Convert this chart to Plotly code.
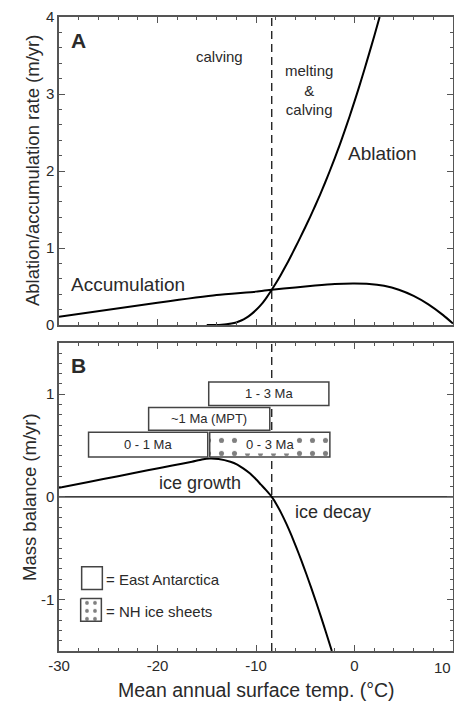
import plotly.graph_objects as go

# ---- data ----
acc_x = [-30, -20, -14, -10, -8.4, -6, -4, -2, 0, 1.5, 3, 4.5, 6, 7.5, 9, 10]
acc_y = [0.11, 0.29, 0.39, 0.435, 0.46, 0.49, 0.515, 0.535, 0.54, 0.535, 0.51, 0.46, 0.38, 0.27, 0.13, 0.02]

abl_x = [-15, -14, -13.5, -13, -12.5, -12, -11.5, -11, -10.5, -10, -9.5, -9, -8.4, -8, -7.5, -7, -6.5, -6,
         -5.5, -5, -4.5, -4, -3.5, -3, -2.5, -2, -1.5, -1, -0.5, 0, 0.5, 1, 1.5, 2, 2.55]
abl_y = [0.0, 0.002, 0.006, 0.012, 0.02, 0.035, 0.06, 0.095, 0.14, 0.195, 0.262, 0.345, 0.46, 0.54, 0.648, 0.763,
         0.884, 1.01, 1.139, 1.271, 1.406, 1.546, 1.692, 1.845, 2.004, 2.169, 2.341, 2.521, 2.709, 2.904, 3.106,
         3.316, 3.531, 3.751, 4.0]

mb_x = [-30, -27, -24, -21, -18.5, -16.5, -15.5, -14.7, -13.8, -12.6, -11.9, -11.3, -10.6, -10, -9.5, -9, -8.4,
        -7.9, -7.4, -6.9, -6.4, -5.9, -5.4, -4.9, -4.4, -3.9, -3.4, -2.9, -2.3]
mb_y = [0.09, 0.146, 0.202, 0.259, 0.306, 0.343, 0.365, 0.375, 0.37, 0.343, 0.315, 0.278, 0.228, 0.172, 0.12,
        0.068, 0.0, -0.075, -0.165, -0.265, -0.375, -0.493, -0.618, -0.748, -0.883, -1.023, -1.168, -1.318, -1.5]

threshold_temp = -8.4

# East Antarctica boxes: label, x0, x1, y0, y1
ea_labels = ["1 - 3 Ma", "~1 Ma (MPT)", "0 - 1 Ma"]
ea_x0 = [-14.8, -20.9, -27.0]
ea_x1 = [-2.6, -8.6, -14.9]
ea_y0 = [0.89, 0.65, 0.39]
ea_y1 = [1.12, 0.87, 0.63]

# NH ice sheet box
nh_label = "0 - 3 Ma"
nh_x0, nh_x1, nh_y0, nh_y1 = -14.7, -2.5, 0.39, 0.63

x_ticks = [-30, -20, -10, 0, 10]
x_ticklabels = ["-30", "-20", "-10", "0", "10"]
ya_ticks = [0, 1, 2, 3, 4]
yb_ticks = [-1, 0, 1]
yb_ticklabels = ["-1", "0", "1"]

FONT = "Liberation Sans, Arial, Helvetica, sans-serif"
TXT = "#2a2a2a"
AX = "#555555"

fig = go.Figure()

line_style = dict(color="black", width=2, shape="spline", smoothing=0.6)
fig.add_trace(go.Scatter(x=acc_x, y=acc_y, mode="lines", line=line_style,
                         xaxis="x", yaxis="y", showlegend=False))
fig.add_trace(go.Scatter(x=abl_x, y=abl_y, mode="lines", line=line_style,
                         xaxis="x", yaxis="y", showlegend=False))
fig.add_trace(go.Scatter(x=mb_x, y=mb_y, mode="lines", line=line_style,
                         xaxis="x2", yaxis="y2", showlegend=False))

# hatched NH box
fig.add_trace(go.Scatter(x=[nh_x0, nh_x1, nh_x1, nh_x0, nh_x0], y=[nh_y0, nh_y0, nh_y1, nh_y1, nh_y0],
                         mode="lines", fill="toself", fillcolor="white",
                         fillpattern=dict(shape=".", size=13, solidity=0.12, fgcolor="#000", bgcolor="white"),
                         line=dict(color="#444", width=1.5), xaxis="x2", yaxis="y2", showlegend=False,
                         hoverinfo="skip"))

# NH legend box (hatched)
fig.add_trace(go.Scatter(x=[-27.8, -25.7, -25.7, -27.8, -27.8], y=[-0.99, -0.99, -1.21, -1.21, -0.99],
                         mode="lines", fill="toself", fillcolor="white",
                         fillpattern=dict(shape=".", size=8, solidity=0.18, fgcolor="#000", bgcolor="white"),
                         line=dict(color="#444", width=1.5), xaxis="x2", yaxis="y2", showlegend=False,
                         hoverinfo="skip"))

shapes = []
for x0, x1, y0, y1 in zip(ea_x0, ea_x1, ea_y0, ea_y1):
    shapes.append(dict(type="rect", xref="x2", yref="y2", x0=x0, x1=x1, y0=y0, y1=y1,
                       line=dict(color="#444", width=1.5), fillcolor="white", layer="above"))
shapes.append(dict(type="rect", xref="x2", yref="y2", x0=-27.7, x1=-25.6, y0=-0.68, y1=-0.9,
                   line=dict(color="#444", width=1.5), fillcolor="white"))
for xr, yr, yl in (("x", "y", (0, 4)), ("x2", "y2", (-1.5, 1.5))):
    shapes.append(dict(type="line", xref=xr, yref=yr, x0=threshold_temp, x1=threshold_temp, y0=yl[0], y1=yl[1],
                       line=dict(color="black", width=1.2, dash="8px,5px"), layer="below"))
shapes.append(dict(type="line", xref="x2", yref="y2", x0=-30, x1=10, y0=0, y1=0,
                   line=dict(color="black", width=1.2), layer="below"))

ann = []
def A(x, y, t, size, xr="x", yr="y", bold=False, **kw):
    d = dict(x=x, y=y, xref=xr, yref=yr, text=("<b>%s</b>" % t) if bold else t, showarrow=False,
             xanchor="center", yanchor="middle",
             font=dict(family=FONT, size=size, color=TXT))
    d.update(kw)
    ann.append(d)

A(-28, 3.7, "A", 21, bold=True)
A(-13.7, 3.49, "calving", 15)
A(-4.6, 3.05, "melting<br>&<br>calving", 15)
A(2.8, 2.23, "Ablation", 19)
A(-23, 0.53, "Accumulation", 19)

A(-28, 1.28, "B", 21, "x2", "y2", bold=True)
for lab, x0, x1, y0, y1 in zip(ea_labels, ea_x0, ea_x1, ea_y0, ea_y1):
    A((x0 + x1) / 2, (y0 + y1) / 2, lab, 13, "x2", "y2")
A((nh_x0 + nh_x1) / 2, (nh_y0 + nh_y1) / 2, nh_label, 13, "x2", "y2", bgcolor="white")
A(-15.7, 0.135, "ice growth", 18, "x2", "y2")
A(-2.2, -0.15, "ice decay", 18, "x2", "y2")
A(-25.4, -0.8, "= East Antarctica", 15, "x2", "y2", xanchor="left")
A(-25.4, -1.12, "= NH ice sheets", 15, "x2", "y2", xanchor="left")

# last x tick label kept inside the page (it sits at the right edge)
A(x_ticks[-1], -0.0255, x_ticklabels[-1], 15, "x2", "paper", xanchor="right")

A(-0.0685, 0.757, "Ablation/accumulation rate (m/yr)", 18.5, "paper", "paper", textangle=-90)
A(-0.0735, 0.243, "Mass balance (m/yr)", 18.5, "paper", "paper", textangle=-90)
A(0.5, -0.0615, "Mean annual surface temp. (°C)", 19.5, "paper", "paper")

common = dict(showline=True, linecolor=AX, linewidth=1.5, mirror="allticks", ticks="inside",
              tickcolor=AX, tickwidth=1, showgrid=False, zeroline=False, ticklen=6,
              automargin=False,
              tickfont=dict(family=FONT, size=15, color=TXT))

def minor(d):
    return dict(dtick=d, ticklen=3.5, ticks="inside", tickcolor=AX, tickwidth=1, showgrid=False)

fig.update_layout(
    width=454, height=702,
    margin=dict(l=59, r=1, t=17, b=51),
    paper_bgcolor="white", plot_bgcolor="white",
    shapes=shapes, annotations=ann,
    xaxis=dict(domain=[0, 1], anchor="y", range=[-30, 10], tickvals=x_ticks, ticktext=x_ticklabels,
               showticklabels=False, minor=minor(2), **common),
    yaxis=dict(domain=[0.514, 1], anchor="x", range=[0, 4], tickvals=ya_ticks, minor=minor(0.2), **common),
    xaxis2=dict(domain=[0, 1], anchor="y2", range=[-30, 10], tickvals=x_ticks,
                ticktext=x_ticklabels[:-1] + [""], minor=minor(2), **common),
    yaxis2=dict(domain=[0, 0.486], anchor="x2", range=[-1.5, 1.5], tickvals=yb_ticks, ticktext=yb_ticklabels,
                minor=minor(0.1), **common),
)

fig.write_html("out.html", config={"displayModeBar": False},
               post_script="document.body.style.margin='0';document.body.style.overflow='hidden';")
